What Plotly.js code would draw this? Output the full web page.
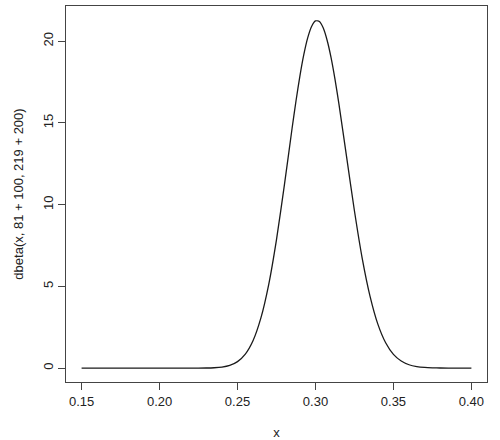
<!DOCTYPE html>
<html>
<head>
<meta charset="utf-8">
<script src="https://cdn.plot.ly/plotly-3.0.1.min.js"></script>
<style>html,body{margin:0;padding:0;background:#fff;}#chart{width:500px;height:440px;}</style>
</head>
<body>
<div id="chart"></div>
<script>
// x grid and density values
var xValues = [0.15,0.16,0.17,0.18,0.19,0.20,0.21,0.22,0.23,0.235,0.24,0.245,0.25,0.255,0.26,0.265,0.27,0.275,0.28,0.285,0.2875,0.29,0.2925,0.295,0.2975,0.30,0.3025,0.305,0.3075,0.31,0.3125,0.315,0.32,0.325,0.33,0.335,0.34,0.345,0.35,0.355,0.36,0.365,0.37,0.375,0.38,0.39,0.40];
var densityValues = [0,0,0,0,0,0,0,0.0005,0.007,0.023,0.065,0.168,0.397,0.857,1.69,3.07,5.11,7.86,11.16,14.67,16.34,17.86,19.17,20.20,20.90,21.24,21.20,20.80,20.04,18.99,17.68,16.18,12.89,9.61,6.70,4.39,2.69,1.55,0.84,0.43,0.205,0.093,0.039,0.016,0.006,0.0007,0.0001];
var xTickVals = [0.15,0.20,0.25,0.30,0.35,0.40];
var xTickText = ["0.15","0.20","0.25","0.30","0.35","0.40"];
var yTickVals = [0,5,10,15,20];
var yTickText = ["0","5","10","15","20"];

var trace = {
  x: xValues, y: densityValues, type: 'scatter', mode: 'lines',
  line: {color: '#1a1a1a', width: 1.3, shape: 'spline', smoothing: 0.6},
  hoverinfo: 'skip'
};
var font = {family: '"Liberation Sans", Arial, sans-serif', size: 13, color: '#222'};
var layout = {
  width: 500, height: 440,
  margin: {l: 66, r: 13, t: 6, b: 58, pad: 0},
  paper_bgcolor: '#fff', plot_bgcolor: '#fff',
  showlegend: false,
  font: font,
  xaxis: {
    range: [0.14, 0.41], tickvals: xTickVals, ticktext: xTickText,
    showgrid: false, zeroline: false,
    showline: true, mirror: true, linecolor: '#444', linewidth: 1.2,
    ticks: 'outside', ticklen: 7, tickcolor: '#444', tickwidth: 1,
    tickfont: font,
    title: {text: 'x', font: font, standoff: 20},
    automargin: false
  },
  yaxis: {
    range: [-0.85, 22.15], tickvals: yTickVals, ticktext: yTickText,
    tickangle: -90,
    showgrid: false, zeroline: false,
    showline: true, mirror: true, linecolor: '#444', linewidth: 1.2,
    ticks: 'outside', ticklen: 7, tickcolor: '#444', tickwidth: 1,
    tickfont: font,
    title: {text: 'dbeta(x, 81 + 100, 219 + 200)', font: font, standoff: 14},
    automargin: false
  }
};
Plotly.newPlot('chart', [trace], layout, {staticPlot: true, displayModeBar: false});
</script>
</body>
</html>
